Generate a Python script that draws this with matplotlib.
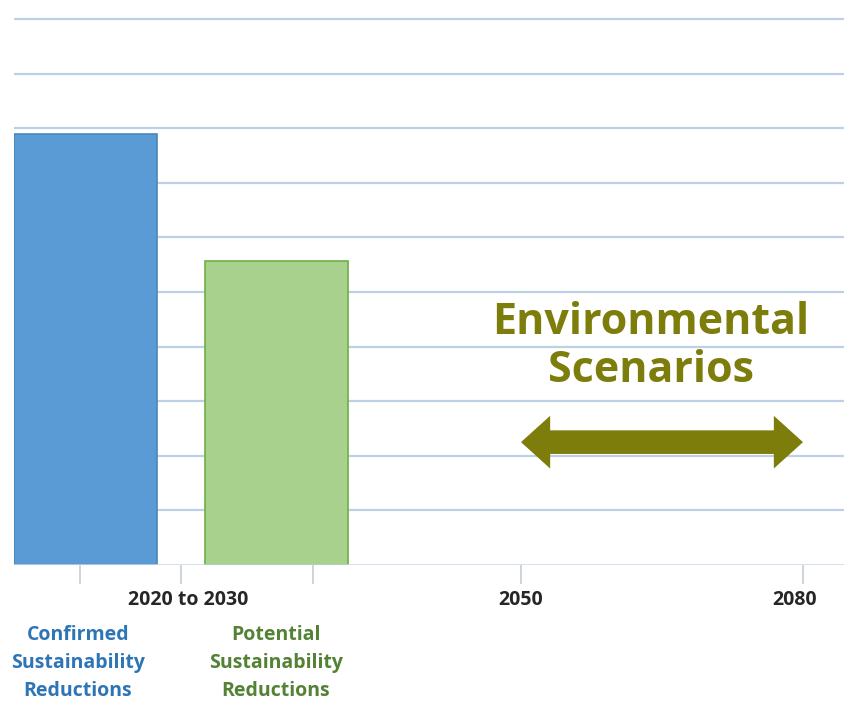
import matplotlib.pyplot as plt
from matplotlib.patches import FancyArrowPatch
from matplotlib.transforms import blended_transform_factory

# data
bar_names = ['Confirmed\nSustainability\nReductions', 'Potential\nSustainability\nReductions']
bar_values = [7.9, 5.57]
bar_colors = ['#5b9bd5', '#a9d18e']
bar_edges = ['#4a86bd', '#70ad47']
label_colors = ['#2e75b6', '#548235']
period_labels = ['2020 to 2030', '2050', '2080']

# layout (axes units roughly = pixels from left edge of the plot)
bar_x = [71.5, 262]
bar_w = 143
name_x = [64, 262]
tick_x = [66, 167, 299, 507, 789]
period_x = [174, 507, 781]
arrow_y = 2.25

fig = plt.figure(figsize=(8.44, 7.02), dpi=100)
ax = fig.add_axes([14 / 844, 137 / 702, 830 / 844, 565 / 702])
ax.set_xlim(0, 830)
ax.set_ylim(0, 565 / 54.6)

# grid
for y in range(1, 11):
    ax.axhline(y, color='#bcd0e6', lw=1.6, zorder=0)
ax.axhline(0, color='#c8d6e6', lw=1.8, zorder=3)

ax.bar(bar_x, bar_values, width=bar_w, color=bar_colors, edgecolor=bar_edges, lw=1.2, zorder=2)

for s in ax.spines.values():
    s.set_visible(False)
ax.set_yticks([])
ax.set_xticks(tick_x)
ax.set_xticklabels([])
ax.tick_params(axis='x', length=14, width=1.2, color='#c8ccd2')

trans = blended_transform_factory(ax.transData, fig.transFigure)
for x, lab in zip(period_x, period_labels):
    ax.text(x, 1 - 600 / 702, lab, transform=trans, ha='center', va='center',
            fontsize=14, fontweight='bold', family='Open Sans', color='#262626')

for x, lab, c in zip(name_x, bar_names, label_colors):
    ax.text(x, 1 - 663 / 702, lab, transform=trans, ha='center', va='center',
            fontsize=14, fontweight='bold', family='Open Sans', color=c, linespacing=1.5)

olive = '#7d7d0c'
ax.text(637, 4.0, 'Environmental\nScenarios', ha='center', va='center', fontsize=31,
        fontweight='bold', family='Open Sans', color=olive, linespacing=1.16)

mid = (tick_x[3] + tick_x[4]) / 2
for end in (tick_x[3], tick_x[4]):
    ax.add_patch(FancyArrowPatch((mid, arrow_y), (end, arrow_y),
                                 arrowstyle='simple,head_length=21,head_width=38,tail_width=17',
                                 mutation_scale=1, shrinkA=0, shrinkB=0,
                                 color=olive, lw=0, zorder=4))

fig.savefig('out.png', dpi=100)
